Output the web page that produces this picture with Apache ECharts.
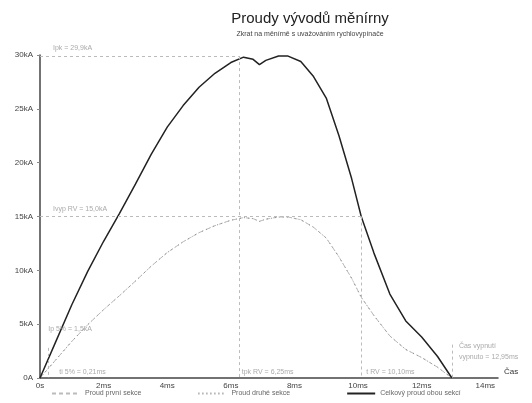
<!DOCTYPE html>
<html><head><meta charset="utf-8">
<script src="https://cdn.jsdelivr.net/npm/echarts@6/dist/echarts.min.js"></script>
<style>html,body{margin:0;padding:0;background:#fff}#c{width:532px;height:403px}</style>
</head><body><div id="c"></div>
<script>
// time in ms
const timeMs = [0, 0.5, 1, 1.5, 2, 2.5, 3, 3.5, 4, 4.5, 5, 5.5, 6, 6.4, 6.7, 6.9, 7.1, 7.5, 7.8, 8.2, 8.6, 9.0, 9.4, 9.8, 10.1, 10.5, 11.0, 11.5, 12.0, 12.5, 12.95];
// currents in kA
const totalCurrent = [0, 3.4, 6.8, 9.9, 12.7, 15.3, 18.0, 20.8, 23.3, 25.3, 27.0, 28.3, 29.3, 29.8, 29.6, 29.1, 29.5, 29.9, 29.9, 29.4, 28.0, 26.0, 22.5, 18.5, 15.0, 11.6, 7.8, 5.3, 3.8, 2.0, 0];
const section1Current = [0, 1.7, 3.4, 4.95, 6.35, 7.65, 9.0, 10.4, 11.65, 12.65, 13.5, 14.15, 14.65, 14.9, 14.8, 14.55, 14.75, 14.95, 14.95, 14.7, 14.0, 13.0, 11.25, 9.25, 7.5, 5.8, 3.9, 2.65, 1.9, 1.0, 0];
const section2Current = [0, 1.7, 3.4, 4.95, 6.35, 7.65, 9.0, 10.4, 11.65, 12.65, 13.5, 14.15, 14.65, 14.9, 14.8, 14.55, 14.75, 14.95, 14.95, 14.7, 14.0, 13.0, 11.25, 9.25, 7.5, 5.8, 3.9, 2.65, 1.9, 1.0, 0];
const seriesNames = ['Proud první sekce', 'Proud druhé sekce', 'Celkový proud obou sekcí'];
const yTicks = [0, 5, 10, 15, 20, 25, 30];
const xTicks = [0, 2, 4, 6, 8, 10, 12, 14];
// annotation values
const peakT = 6.25, peakI = 29.9;
const rvT = 10.1, rvI = 15.0;
const offT = 12.95;

const pairs = (ys) => timeMs.map((t, i) => [t, ys[i]]);
const annFont = {fontSize: 7, color: '#aaa', fontFamily: 'Liberation Sans, Arial, sans-serif'};
const lineGray = {color: '#bbb', width: 1, type: [3, 3]};

function note(coord, text, pos, offset) {
  return {coord: coord, symbol: 'circle', symbolSize: 0,
    label: Object.assign({show: true, formatter: text, position: pos || 'right', offset: offset || [0, 0]}, annFont)};
}

const chart = echarts.init(document.getElementById('c'));
chart.setOption({
  animation: false,
  backgroundColor: '#fff',
  title: {
    text: 'Proudy vývodů měnírny',
    subtext: 'Zkrat na měnírně s uvažováním rychlovypínače',
    left: 305, textAlign: 'center', top: 6, itemGap: 5,
    textStyle: {fontSize: 15, fontWeight: 'normal', color: '#222', fontFamily: 'Liberation Sans, Arial, sans-serif'},
    subtextStyle: {fontSize: 7, color: '#444', fontFamily: 'Liberation Sans, Arial, sans-serif'}
  },
  grid: {left: 40, right: 34, top: 55, bottom: 25},
  legend: {
    bottom: 1, left: 46, itemGap: 56, itemWidth: 28, itemHeight: 8,
    itemStyle: {opacity: 0},
    textStyle: {fontSize: 7, color: '#666', fontFamily: 'Liberation Sans, Arial, sans-serif'},
    data: seriesNames
  },
  xAxis: {
    type: 'value', min: 0, max: 14.4, interval: 2,
    name: 'Čas', nameLocation: 'end', nameGap: 6,
    nameTextStyle: {fontSize: 8, color: '#333', verticalAlign: 'bottom', padding: [0, 0, 2, 0]},
    axisLine: {show: true, lineStyle: {color: '#444', width: 1.5}},
    axisTick: {show: false},
    splitLine: {show: false},
    axisLabel: {fontSize: 8, color: '#444', margin: 4, showMaxLabel: false,
      formatter: v => xTicks.includes(v) ? (v === 0 ? '0s' : v + 'ms') : ''}
  },
  yAxis: {
    type: 'value', min: 0, max: 30, interval: 5,
    axisLine: {show: true, lineStyle: {color: '#444', width: 1.5}},
    axisTick: {show: true, length: 3, lineStyle: {color: '#888'}},
    splitLine: {show: false},
    axisLabel: {fontSize: 8, color: '#444', margin: 7,
      formatter: v => yTicks.includes(v) ? (v === 0 ? '0A' : v + 'kA') : ''}
  },
  series: [
    {name: seriesNames[0], type: 'line', data: pairs(section1Current), symbol: 'none', z: 2,
      lineStyle: {color: '#bbb', width: 1, type: [4, 3]}, itemStyle: {color: '#bbb'}},
    {name: seriesNames[1], type: 'line', data: pairs(section2Current), symbol: 'none', z: 3,
      lineStyle: {color: '#888', width: 1, type: [1, 3]}, itemStyle: {color: '#888'}},
    {name: seriesNames[2], type: 'line', data: pairs(totalCurrent), symbol: 'none', z: 4,
      lineStyle: {color: '#222', width: 1.5}, itemStyle: {color: '#222'},
      markLine: {
        silent: true, symbol: ['none', 'none'], label: {show: false}, animation: false,
        lineStyle: lineGray,
        data: [
          [{coord: [0, peakI]}, {coord: [peakT, peakI]}],
          [{coord: [peakT, peakI]}, {coord: [peakT, 0]}],
          [{coord: [0, rvI]}, {coord: [rvT, rvI]}],
          [{coord: [rvT, rvI]}, {coord: [rvT, 0]}],
          [{coord: [offT, 3.1]}, {coord: [offT, 0]}],
          [{coord: [0.25, 2.8]}, {coord: [0.25, 0]}]
        ]
      },
      markPoint: {
        silent: true, animation: false,
        data: [
          note([0.25, peakI], 'Ipk = 29,9kA', 'right', [0, -8]),
          note([0.25, rvI], 'Ivyp RV = 15,0kA', 'right', [0, -7]),
          note([0.1, 4.5], 'Ip 5% = 1,5kA', 'right', [0, 0]),
          note([0.45, 0], 'ti 5% = 0,21ms', 'right', [0, -6]),
          note([peakT, 0], 'tpk RV = 6,25ms', 'right', [-2, -6]),
          note([rvT, 0], 't RV = 10,10ms', 'right', [0, -6]),
          note([offT, 3.1], 'Čas vypnutí', 'right', [2, 1]),
          note([offT, 2.0], 'vypnuto = 12,95ms', 'right', [2, 1])
        ]
      }
    }
  ]
});
</script>
</body></html>
